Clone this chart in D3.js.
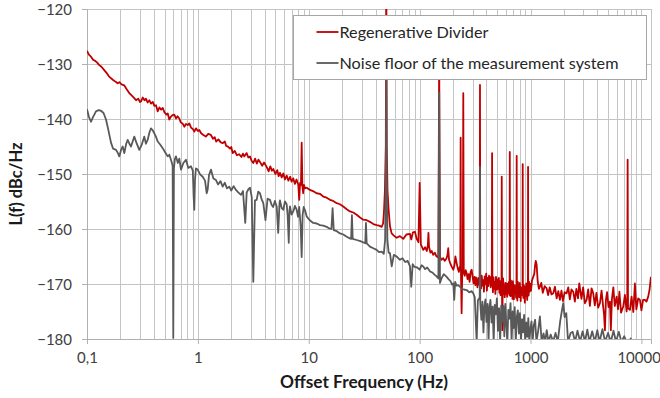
<!DOCTYPE html>
<html>
<head>
<meta charset="utf-8">
<script src="https://cdn.jsdelivr.net/npm/d3@7"></script>
<style>
  body { margin: 0; background: #fff; }
  svg { display: block; font-family: Lato, "Open Sans", sans-serif; }
</style>
</head>
<body>
<div id="chart"></div>
<script>
// Regenerative divider phase noise [offset Hz, dBc/Hz]
const divider = [
  [0.1,-127.6],[0.104,-128.3],[0.108,-128.6],[0.113,-129.2],[0.118,-129.4],[0.123,-129.7],[0.129,-130.2],[0.135,-130.5],
  [0.143,-131.1],[0.15,-131.6],[0.157,-132.2],[0.165,-132.6],[0.172,-132.9],[0.18,-133.2],[0.189,-133.5],[0.196,-133.3],
  [0.205,-133.7],[0.217,-133.9],[0.228,-134.6],[0.241,-135.3],[0.255,-135.8],[0.267,-136.2],[0.277,-136.6],[0.29,-136.3],
  [0.3,-136.9],[0.307,-136.8],[0.318,-136.1],[0.33,-136.6],[0.34,-136.3],[0.352,-137.0],[0.365,-136.6],[0.378,-137.2],
  [0.392,-136.9],[0.405,-137.6],[0.419,-137.5],[0.434,-138.6],[0.45,-137.9],[0.466,-138.3],[0.482,-138.0],[0.5,-138.8],
  [0.52,-139.2],[0.535,-139.0],[0.552,-140.1],[0.57,-139.6],[0.59,-139.3],[0.613,-139.2],[0.635,-139.9],[0.655,-139.5],
  [0.68,-139.9],[0.7,-140.6],[0.727,-140.8],[0.754,-141.4],[0.78,-140.9],[0.81,-141.1],[0.837,-140.8],[0.87,-141.6],
  [0.9,-141.8],[0.928,-142.3],[0.96,-141.7],[1.0,-142.2],[1.03,-142.0],[1.07,-142.6],[1.12,-142.9],[1.18,-143.2],
  [1.24,-142.7],[1.31,-142.9],[1.37,-143.6],[1.42,-143.3],[1.46,-144.1],[1.53,-143.7],[1.6,-144.2],[1.67,-144.4],
  [1.75,-144.1],[1.8,-144.9],[1.86,-145.0],[1.95,-145.4],[2.0,-145.1],[2.06,-146.2],[2.15,-145.8],[2.25,-146.6],
  [2.36,-146.4],[2.47,-146.9],[2.55,-146.3],[2.62,-146.8],[2.75,-146.2],[2.85,-147.0],[2.95,-146.8],[3.05,-147.6],
  [3.16,-148.0],[3.28,-147.2],[3.4,-148.1],[3.52,-147.4],[3.63,-147.8],[3.8,-148.5],[3.95,-147.9],[4.17,-148.7],
  [4.35,-149.5],[4.5,-148.6],[4.65,-149.4],[4.79,-149.1],[5.0,-150.0],[5.2,-149.3],[5.35,-150.4],[5.5,-149.8],
  [5.7,-150.6],[5.9,-149.9],[6.1,-151.0],[6.32,-150.3],[6.55,-151.2],[6.8,-150.5],[7.0,-151.4],[7.25,-150.8],
  [7.5,-151.8],[7.75,-151.0],[8.04,-151.9],[8.2,-154.7],[8.35,-151.6],[8.5,-152.0],[8.63,-144.3],[8.76,-152.2],
  [8.9,-153.5],[9.05,-152.0],[9.24,-152.6],[9.6,-152.5],[10.25,-152.9],[10.9,-153.1],[11.78,-153.5],[12.6,-153.6],
  [13.51,-154.1],[14.5,-154.3],[15.53,-154.7],[16.6,-154.9],[17.85,-155.3],[19.1,-155.5],[20.47,-155.9],[22,-156.4],
  [23.52,-156.8],[25.2,-157.0],[27.03,-157.4],[29,-157.9],[31,-158.3],[33.3,-158.4],[35.6,-158.7],[38.2,-159.1],
  [40.96,-159.3],[43,-159.4],[45.4,-159.6],[46.8,-159.0],[47.6,-157.1],[48.6,-153],[49.5,-145],[50,-110],
  [50.5,-145],[51.3,-153],[52.5,-156.5],[54,-159.5],[55.9,-160.8],[58.5,-161.2],[62,-161.6],[66.4,-161.3],
  [71.1,-161.8],[76,-161.0],[81.8,-160.9],[84,-161.9],[87,-160.6],[90.7,-160.5],[94,-161.8],[97.5,-162.4],
  [100,-151.6],[102.5,-162.8],[107.8,-163.8],[112,-163.3],[116,-164.0],[118.5,-163.0],[120,-160.7],[121.5,-163.2],
  [125,-164.3],[128.5,-164.0],[132.6,-164.7],[137,-164.3],[141,-164.9],[145,-165.1],[147.5,-165.2],[150,-128],
  [152.5,-165.0],[157,-165.6],[163.2,-165.3],[168,-165.8],[174,-165.4],[178,-164.8],[181,-163.5],[184,-165.6],
  [190,-166.4],[195,-166.9],[201,-167.4],[206,-166.6],[210,-165.0],[215.6,-166.2],[221,-167.2],[226,-167.8],
  [230,-166.9],[232.5,-167.4],[234.2,-143.4],[236,-168.6],[239,-175.3],[242,-168.3],[245,-167.6],[247.4,-135.3],
  [250,-167.9],[255,-168.5],[260,-167.5],[265.3,-168.0],[270,-169.1],[276,-168.2],[282,-169.6],[288,-167.8],
  [294.4,-167.4],[300,-168.6],[306,-169.9],[312,-168.7],[318,-170.2],[322,-168.8],[326.6,-169.3],[332,-170.6],
  [338,-168.9],[344,-170.1],[348,-169.6],[350,-133.8],[352,-169.4],[358,-170.8],[363,-168.5],[369,-170.3],
  [374.6,-169.3],[380,-171.4],[386,-168.6],[392,-170.0],[398,-168.1],[404,-171.2],[410,-168.9],[416,-170.4],
  [422,-168.5],[430.4,-168.7],[437,-170.6],[443,-169.0],[447,-170.2],[450,-146.2],[453,-169.1],[458,-171.5],
  [464,-168.8],[470,-170.9],[476,-169.6],[482,-171.8],[488,-168.7],[494.6,-169.3],[500,-171.0],[506,-169.2],
  [512,-170.9],[518,-168.9],[524,-171.6],[530,-169.5],[536,-172.0],[542,-169.7],[547,-170.8],[550,-150.5],
  [553,-171.4],[556,-178.4],[560,-172.0],[566,-169.0],[572,-171.8],[578,-170.3],[585,-172.4],[592,-169.8],
  [598,-170.6],[603,-171.9],[609,-169.9],[616,-172.3],[623,-170.0],[630,-171.7],[637,-169.6],[643,-170.9],
  [647,-172.0],[650,-146.0],[653,-170.4],[660,-172.2],[667,-169.4],[674,-171.6],[680,-170.1],[687,-172.7],
  [694,-169.5],[700,-171.3],[708,-172.8],[716,-170.2],[723,-170.5],[729,-171.4],[735,-170.8],[741,-172.5],
  [747,-170.6],[750,-146.7],[753,-171.2],[760,-173.0],[768,-169.6],[776,-171.9],[784,-170.3],[792,-172.4],
  [800,-169.8],[808,-171.5],[816,-173.1],[824,-170.6],[832,-172.0],[840,-170.7],[847,-171.9],[850,-148.2],
  [853,-171.0],[861,-172.5],[870,-170.2],[879,-171.8],[888,-173.4],[897,-170.5],[906,-172.2],[915,-169.9],
  [924,-171.6],[933,-172.9],[942,-170.4],[947,-171.3],[950,-148.7],[953,-170.8],[962,-172.1],[972,-169.6],
  [983,-171.4],[995,-170.0],[1010,-171.2],[1030,-169.4],[1057,-168.7],[1080,-168.2],[1100,-166.5],[1115,-165.8],
  [1135,-166.5],[1160,-169.5],[1190,-170.9],[1215,-170.5],[1250,-169.8],[1290,-171.6],[1340,-170.4],[1397,-170.8],
  [1440,-172.0],[1490,-170.6],[1545,-171.9],[1602,-171.7],[1660,-170.5],[1720,-172.6],[1780,-171.3],[1841,-172.9],
  [1900,-171.2],[1960,-173.1],[2030,-171.5],[2116,-171.7],[2190,-170.6],[2260,-172.8],[2340,-171.0],[2428,-171.4],
  [2510,-173.2],[2590,-170.9],[2680,-172.6],[2750,-169.9],[2790,-170.8],[2880,-172.7],[2980,-170.6],[3090,-173.5],
  [3205,-172.9],[3310,-171.0],[3430,-174.0],[3550,-170.8],[3677,-171.7],[3800,-173.9],[3930,-171.6],[4070,-174.3],
  [4225,-173.5],[4370,-171.2],[4500,-173.8],[4600,-175.5],[4688,-178.4],[4780,-173.0],[4900,-171.5],[5050,-174.2],
  [5200,-173.2],[5300,-178.4],[5420,-172.7],[5580,-170.6],[5750,-174.0],[5977,-172.3],[6150,-174.6],[6330,-171.4],
  [6550,-175.2],[6856,-174.1],[7100,-172.0],[7350,-175.0],[7450,-173.5],[7510,-147.4],[7570,-174.4],[7877,-174.7],
  [8150,-172.3],[8450,-175.1],[8738,-169.9],[9000,-174.6],[9350,-172.6],[9694,-172.9],[10000,-174.8],[10350,-172.9],
  [10755,-172.9],[11100,-173.2],[11515,-172.3],[11850,-171.0],[12180,-168.7]
];

// Noise floor of the measurement system [offset Hz, dBc/Hz]
const noiseFloor = [
  [0.1,-138.2],[0.104,-139.6],[0.1087,-140.5],[0.113,-139.7],[0.1205,-138.6],[0.127,-138.4],[0.1337,-138.5],[0.141,-138.9],
  [0.1484,-140.1],[0.155,-141.8],[0.1646,-144.3],[0.172,-145.4],[0.1826,-145.6],[0.19,-146.2],[0.1956,-146.8],[0.203,-145.6],
  [0.2099,-145.0],[0.217,-146.2],[0.225,-144.6],[0.2328,-143.8],[0.24,-144.4],[0.2494,-145.0],[0.258,-144.1],[0.267,-143.2],
  [0.28,-144.4],[0.2962,-145.6],[0.31,-144.8],[0.3286,-143.2],[0.34,-144.5],[0.3526,-143.8],[0.365,-142.5],[0.3777,-141.7],
  [0.39,-142.0],[0.4046,-142.6],[0.42,-143.3],[0.434,-144.1],[0.455,-144.6],[0.4816,-145.3],[0.505,-146.0],[0.5342,-146.8],
  [0.552,-146.5],[0.572,-147.4],[0.592,-148.5],[0.6,-179.8],[0.608,-149.0],[0.62,-147.3],[0.6345,-146.8],[0.66,-148.0],
  [0.68,-147.2],[0.704,-149.2],[0.74,-148.0],[0.781,-147.4],[0.82,-148.9],[0.8664,-148.6],[0.9,-149.4],[0.915,-154.0],
  [0.928,-156.5],[0.942,-151.0],[0.96,-149.0],[0.9959,-149.2],[1.05,-150.1],[1.105,-150.5],[1.16,-151.2],[1.2,-153.5],
  [1.226,-152.8],[1.26,-150.2],[1.312,-149.2],[1.38,-150.8],[1.456,-151.1],[1.52,-151.9],[1.6,-151.3],[1.673,-152.3],
  [1.75,-151.6],[1.83,-152.6],[1.919,-152.3],[2.0,-153.0],[2.1,-152.2],[2.206,-152.9],[2.3,-153.3],[2.447,-153.8],
  [2.55,-153.1],[2.675,-158.9],[2.754,-153.4],[2.85,-152.8],[2.95,-152.5],[3.06,-154.2],[3.16,-169.6],[3.27,-154.8],
  [3.39,-154.7],[3.5,-153.2],[3.63,-153.5],[3.76,-154.6],[3.89,-155.3],[4.07,-158.4],[4.25,-154.5],[4.47,-154.7],
  [4.62,-155.6],[4.77,-156.0],[4.95,-154.9],[5.14,-155.9],[5.3,-160.7],[5.45,-155.2],[5.5,-154.8],[5.7,-156.2],
  [5.89,-156.5],[6.1,-155.0],[6.32,-155.5],[6.45,-157.5],[6.6,-162.5],[6.7,-156.6],[6.77,-155.9],[7.0,-157.4],
  [7.25,-156.8],[7.5,-155.8],[7.78,-156.5],[8.0,-157.8],[8.2,-156.0],[8.45,-159.5],[8.63,-165.1],[8.8,-157.5],
  [9.0,-156.0],[9.25,-156.6],[9.57,-157.7],[10.2,-158.4],[10.98,-158.9],[11.8,-159.0],[12.62,-159.3],[13.5,-159.4],
  [14.5,-159.6],[15.3,-159.9],[16.0,-160.0],[16.4,-156.2],[16.8,-160.2],[17.9,-160.4],[19.11,-160.8],[20.5,-161.0],
  [21.97,-161.4],[23.5,-161.7],[24.1,-161.8],[24.5,-157.5],[24.9,-161.8],[27.03,-162.0],[29.2,-162.2],[31.5,-162.5],
  [32.3,-162.6],[32.8,-158.9],[33.3,-162.6],[35.6,-163.2],[38.2,-163.5],[40.96,-163.8],[43,-164.2],[45.4,-164.1],
  [47.5,-164.5],[48.8,-162],[49.6,-150],[50,-126],[50.4,-150],[51.2,-162],[52.5,-164.3],[54,-164.4],
  [56,-166.8],[58.5,-164.7],[62,-165.0],[66.4,-165.6],[70,-165.3],[74,-166.0],[78,-165.8],[81.8,-166.8],
  [84,-170.5],[86.5,-166.4],[90,-166.9],[95,-167.0],[100,-167.4],[104,-166.6],[107.8,-166.8],[112,-167.3],
  [117,-167.0],[123.8,-167.7],[130,-167.9],[136,-168.3],[142,-168.6],[147.5,-169.0],[150,-135.2],[152.5,-169.8],
  [158,-168.9],[165,-168.2],[175.2,-168.7],[182,-169.1],[190,-169.5],[196,-170.1],[201,-169.9],[205,-172.9],
  [209,-169.6],[215,-170.3],[222,-170.2],[230.9,-170.5],[240,-170.9],[250,-171.0],[265.3,-171.1],[280,-171.5],
  [295,-171.3],[304.2,-171.7],[314,-172.4],[326.6,-180.5],[335,-173.0],[344,-172.6],[348,-172.8],[350,-148.7],
  [352,-173.4],[360,-176.5],[368,-173.2],[376,-178.8],[384,-174.0],[392,-172.8],[400,-176.9],[410,-173.6],
  [418,-180.5],[426,-174.3],[435,-172.9],[445,-177.0],[455,-174.1],[465,-180.5],[475,-173.8],[486,-175.5],
  [497,-172.6],[508,-178.5],[520,-174.4],[532,-180.5],[544,-173.9],[556,-176.8],[568,-174.0],[580,-179.5],
  [592,-173.6],[605,-177.4],[618,-180.5],[631,-174.7],[645,-176.3],[660,-173.5],[675,-180.5],[690,-175.0],
  [705,-178.0],[720,-174.2],[736,-180.5],[752,-176.0],[768,-174.8],[785,-179.0],[802,-175.3],[820,-180.5],
  [838,-176.4],[856,-178.8],[875,-175.6],[895,-180.5],[915,-177.0],[935,-179.6],[955,-176.2],[975,-180.5],
  [1000,-178.0],[1020,-176.8],[1045,-180.5],[1070,-177.5],[1100,-176.5],[1130,-180.5],[1170,-178.6],[1215,-175.9],
  [1260,-180.5],[1310,-179.0],[1355,-180.5],[1400,-178.4],[1450,-180.5],[1520,-179.2],[1600,-180.5],[1680,-178.9],
  [1760,-180.5],[1850,-176.8],[1920,-174.8],[1972,-173.5],[2030,-176.0],[2100,-175.3],[2180,-180.5],[2300,-178.9],
  [2400,-178.7],[2520,-180.5],[2650,-178.5],[2800,-180.5],[2950,-178.6],[3100,-180.5],[3250,-178.3],[3400,-180.5],
  [3600,-178.6],[3800,-180.5],[4000,-178.4],[4200,-180.5],[4450,-178.2],[4700,-180.5],[5000,-178.9],[5300,-180.5],
  [5600,-178.5],[5900,-180.5],[6250,-178.7],[6600,-180.5],[7000,-179.5],[7500,-181],[8000,-179.9],[8500,-181],
  [12000,-182]
];

const xTicks = [0.1, 1, 10, 100, 1000, 10000];
const xTickLabels = ["0,1", "1", "10", "100", "1000", "10000"];
const yTicks = [-180, -170, -160, -150, -140, -130, -120];
const seriesNames = ["Regenerative Divider", "Noise floor of the measurement system"];
const seriesColors = ["#c00000", "#595959"];

const W = 660, H = 398;
const margin = {top: 9, right: 9, bottom: 59, left: 87};
const width = W - margin.left - margin.right;
const height = H - margin.top - margin.bottom;

const svg = d3.select("#chart").append("svg")
    .attr("width", W)
    .attr("height", H);

const g = svg.append("g").attr("transform", `translate(${margin.left},${margin.top})`);

const x = d3.scaleLog().domain([0.1, 12200]).range([0, width]);
const y = d3.scaleLinear().domain([-180, -120]).range([height, 0]);

// grid: minor decades on x, every 10 dB on y
const xGrid = [];
for (let e = -1; e <= 4; e++) {
    for (let k = 1; k <= 9; k++) {
        const v = +(k * Math.pow(10, e)).toPrecision(3);
        if (v <= 12200) xGrid.push(v);
    }
}
g.append("g").selectAll("line").data(xGrid).join("line")
    .attr("x1", d => Math.round(x(d)) + 0.5).attr("x2", d => Math.round(x(d)) + 0.5)
    .attr("y1", 0).attr("y2", height)
    .attr("stroke", "#c4c4c4");
g.append("g").selectAll("line").data(yTicks).join("line")
    .attr("x1", 0).attr("x2", width)
    .attr("y1", d => Math.round(y(d)) + 0.5).attr("y2", d => Math.round(y(d)) + 0.5)
    .attr("stroke", "#c4c4c4");
g.append("line")
    .attr("x1", width + 0.5).attr("x2", width + 0.5)
    .attr("y1", 0).attr("y2", height)
    .attr("stroke", "#c4c4c4");

// axes
const xAxis = g.append("g").attr("transform", `translate(0,${height})`)
    .call(d3.axisBottom(x).tickValues(xTicks).tickFormat((d, i) => xTickLabels[i]).tickSize(5).tickPadding(8));
const yAxis = g.append("g")
    .call(d3.axisLeft(y).tickValues(yTicks).tickFormat(d3.format("d")).tickSize(5).tickPadding(10));
[xAxis, yAxis].forEach(a => {
    a.select(".domain").attr("stroke", "#b0b0b0");
    a.selectAll(".tick line").attr("stroke", "#b0b0b0");
    a.selectAll(".tick text").attr("fill", "#404040").style("font-size", "15px").style("font-family", "Lato");
});
yAxis.selectAll(".tick text").attr("dy", "0.36em");
// keep the last label inside the picture
xAxis.selectAll(".tick text").filter(d => d === 10000).attr("text-anchor", "end").attr("x", 19);

// series
g.append("clipPath").attr("id", "plot-clip")
    .append("rect").attr("width", width).attr("height", height);

const line = d3.line().x(d => x(d[0])).y(d => y(d[1]));
const plot = g.append("g").attr("clip-path", "url(#plot-clip)");
[divider, noiseFloor].forEach((data, i) => {
    plot.append("path")
        .datum(data)
        .attr("fill", "none")
        .attr("stroke", seriesColors[i])
        .attr("stroke-width", 1.8)
        .attr("stroke-linejoin", "round")
        .attr("d", line);
});

// legend
const legend = svg.append("g").attr("transform", "translate(293.5,15.5)");
legend.append("rect")
    .attr("width", 353).attr("height", 64)
    .attr("fill", "#fff").attr("stroke", "#a6a6a6");
seriesNames.forEach((name, i) => {
    const ly = 16.5 + i * 31;
    legend.append("line")
        .attr("x1", 23).attr("x2", 45).attr("y1", ly).attr("y2", ly)
        .attr("stroke", seriesColors[i]).attr("stroke-width", 1.8);
    legend.append("text")
        .attr("x", 46).attr("y", ly).attr("dy", "0.35em")
        .attr("fill", "#262626")
        .style("font-size", "16.2px")
        .text(name);
});

// axis titles
svg.append("text")
    .attr("x", 364).attr("y", 388)
    .attr("text-anchor", "middle")
    .style("font-size", "17.3px").style("font-weight", "bold")
    .attr("fill", "#1a1a1a")
    .text("Offset Frequency (Hz)");
svg.append("text")
    .attr("transform", "translate(22,184) rotate(-90)")
    .attr("text-anchor", "middle")
    .style("font-size", "16.5px").style("font-weight", "bold")
    .attr("fill", "#1a1a1a")
    .text("L(f) dBc/Hz");
</script>
</body>
</html>
